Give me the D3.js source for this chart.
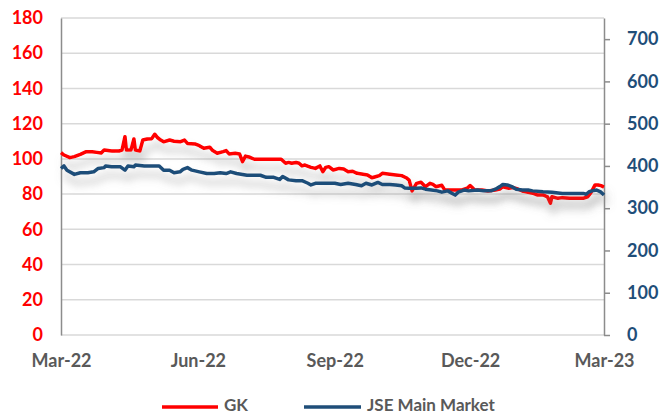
<!DOCTYPE html>
<html><head><meta charset="utf-8">
<script src="https://cdn.jsdelivr.net/npm/d3@7"></script>
<style>
body{margin:0;background:#fff;}
svg{display:block;font-family:Lato,"Open Sans",sans-serif;font-weight:bold;}
</style></head><body>
<svg id="c" width="665" height="414"></svg>
<script>
const gkDates = ["2022-03-01","2022-03-03","2022-03-07","2022-03-10","2022-03-14","2022-03-18","2022-03-22","2022-03-25","2022-03-28","2022-03-30","2022-04-04","2022-04-09","2022-04-11","2022-04-13","2022-04-14","2022-04-17","2022-04-19","2022-04-20","2022-04-23","2022-04-25","2022-04-28","2022-05-01","2022-05-03","2022-05-05","2022-05-07","2022-05-09","2022-05-13","2022-05-16","2022-05-20","2022-05-23","2022-05-25","2022-05-30","2022-06-02","2022-06-05","2022-06-09","2022-06-11","2022-06-14","2022-06-18","2022-06-20","2022-06-22","2022-06-26","2022-06-29","2022-07-01","2022-07-03","2022-07-06","2022-07-09","2022-07-18","2022-07-27","2022-07-30","2022-08-01","2022-08-03","2022-08-06","2022-08-08","2022-08-10","2022-08-12","2022-08-16","2022-08-19","2022-08-22","2022-08-24","2022-08-26","2022-08-28","2022-08-31","2022-09-04","2022-09-07","2022-09-10","2022-09-13","2022-09-16","2022-09-20","2022-09-23","2022-09-26","2022-09-29","2022-10-01","2022-10-03","2022-10-08","2022-10-12","2022-10-16","2022-10-19","2022-10-21","2022-10-23","2022-10-26","2022-10-29","2022-11-01","2022-11-04","2022-11-06","2022-11-08","2022-11-12","2022-11-14","2022-11-21","2022-11-25","2022-11-29","2022-12-01","2022-12-03","2022-12-04","2022-12-09","2022-12-13","2022-12-18","2022-12-21","2022-12-23","2022-12-27","2022-12-30","2023-01-02","2023-01-05","2023-01-09","2023-01-12","2023-01-15","2023-01-19","2023-01-22","2023-01-24","2023-01-25","2023-01-29","2023-02-01","2023-02-06","2023-02-10","2023-02-15","2023-02-18","2023-02-20","2023-02-23","2023-02-25","2023-02-27","2023-03-01"];
const gkValues = [103.5,102.2,100.7,101.3,102.6,104.1,104.1,103.7,103.3,105,104.5,104.5,105,112.6,105,105,111.3,105,104.5,110.7,111.3,111.5,114,112,110.7,109.7,110.7,110,109.7,110.7,108.8,108.5,107.5,106,106.6,104.7,103.2,104.1,104.7,102.8,103.2,102.8,98.4,101.6,100.9,99.8,99.8,99.8,97.5,98,97.5,98,97.5,96,96.5,95.2,94.6,96,92.7,95.2,95.6,93.7,94.6,94.2,92.7,93,91.8,91.3,90.9,89.3,90,90.5,91.8,91.3,90.9,90.5,89.3,88,81.8,86.1,86.7,84.2,86.1,85.5,84.2,85,82.3,82.3,82.3,83.3,84.8,83.3,82.3,82.3,81.8,82.3,82.9,84.2,83.3,83.7,82.9,81.8,81,80.5,79.5,79.5,78.5,74.8,78.5,77.6,78,77.6,77.6,77.6,78.5,80.5,85.2,85.2,84.8,84];

const jseDates = ["2022-03-01","2022-03-03","2022-03-05","2022-03-10","2022-03-14","2022-03-19","2022-03-23","2022-03-26","2022-03-30","2022-03-31","2022-04-04","2022-04-10","2022-04-13","2022-04-15","2022-04-19","2022-04-20","2022-04-26","2022-05-06","2022-05-09","2022-05-13","2022-05-16","2022-05-20","2022-05-22","2022-05-25","2022-05-28","2022-06-02","2022-06-07","2022-06-12","2022-06-16","2022-06-20","2022-06-23","2022-06-27","2022-07-04","2022-07-13","2022-07-17","2022-07-22","2022-07-26","2022-07-28","2022-08-01","2022-08-06","2022-08-10","2022-08-14","2022-08-16","2022-08-19","2022-08-28","2022-09-01","2022-09-05","2022-09-10","2022-09-15","2022-09-19","2022-09-22","2022-09-26","2022-09-30","2022-10-03","2022-10-08","2022-10-12","2022-10-16","2022-10-18","2022-10-21","2022-10-26","2022-10-29","2022-11-01","2022-11-05","2022-11-09","2022-11-12","2022-11-16","2022-11-19","2022-11-21","2022-11-23","2022-11-27","2022-11-30","2022-12-06","2022-12-10","2022-12-15","2022-12-18","2022-12-21","2022-12-23","2022-12-26","2022-12-29","2023-01-01","2023-01-05","2023-01-09","2023-01-12","2023-01-19","2023-01-25","2023-02-01","2023-02-08","2023-02-15","2023-02-17","2023-02-19","2023-02-21","2023-02-24","2023-02-27","2023-03-01"];
const jseValues = [394,400,390,380,384,384,386,394,396,400,398,398,390,400,398,402,400,400,390,390,384,386,392,396,390,386,382,382,384,382,386,382,378,378,373,373,368,375,367,365,365,359,355,359,359,359,356,359,356,353,359,355,361,356,356,355,353,348,347,347,348,345,343,341,338,341,335,331,338,343,341,343,341,341,345,351,356,355,351,345,343,343,341,339,338,335,335,335,333,339,341,343,338,331];

const leftTicks = [0,20,40,60,80,100,120,140,160,180];
const rightTicks = [0,100,200,300,400,500,600,700];
const xTickLabels = ["Mar-22","Jun-22","Sep-22","Dec-22","Mar-23"];
const xTickDates = ["2022-03-01","2022-06-01","2022-09-01","2022-12-01","2023-03-01"];
const seriesNames = ["GK","JSE Main Market"];
const seriesColors = ["#ff0000","#1f4e79"];

const svg = d3.select("#c");
const m = {l:61, r:604, t:18, b:335};
const parse = d3.utcParse("%Y-%m-%d");
const x = d3.scaleUtc().domain([parse("2022-03-01"), parse("2023-03-01")]).range([m.l, m.r]);
const yL = d3.scaleLinear().domain([0,180]).range([m.b, m.t]);
const yR = d3.scaleLinear().domain([0,750]).range([m.b, m.t]);
const FS = "18px";

const defs = svg.append("defs");
const f = defs.append("filter").attr("id","sh").attr("x","-10%").attr("y","-50%").attr("width","120%").attr("height","250%");
f.append("feDropShadow").attr("dx",3).attr("dy",9).attr("stdDeviation",4).attr("flood-color","#7f7f7f").attr("flood-opacity",0.5);

// gridlines
svg.append("g").selectAll("line").data(leftTicks).join("line")
  .attr("x1",m.l).attr("x2",m.r).attr("y1",d=>yL(d)).attr("y2",d=>yL(d))
  .attr("stroke","#d9d9d9").attr("stroke-width",1.5);

// left axis
const gL = svg.append("g").attr("transform",`translate(${m.l},0)`)
  .call(d3.axisLeft(yL).tickValues(leftTicks).tickSize(0).tickPadding(18));
gL.select(".domain").attr("stroke","#8c8c8c").attr("stroke-width",1.5);
gL.selectAll("text").attr("fill","#ff0000").style("font-size",FS).style("font-family","Lato").style("font-weight","bold");

// right axis
const gR = svg.append("g").attr("transform",`translate(${m.r},0)`)
  .call(d3.axisRight(yR).tickValues(rightTicks).tickSize(6).tickSizeOuter(0).tickPadding(17));
gR.select(".domain").attr("stroke","#8c8c8c").attr("stroke-width",1.5);
gR.selectAll(".tick line").attr("stroke","#8c8c8c").attr("stroke-width",1.5);
gR.selectAll("text").attr("fill","#1f4e79").style("font-size",FS).style("font-family","Lato").style("font-weight","bold");

// x axis
const gX = svg.append("g").attr("transform",`translate(0,${m.b})`)
  .call(d3.axisBottom(x).tickValues(xTickDates.map(parse)).tickFormat((d,i)=>xTickLabels[i]).tickSize(0).tickPadding(19));
gX.select(".domain").remove();
gX.selectAll("text").attr("fill","#595959").style("font-size",FS).style("font-family","Lato").style("font-weight","bold");

const gk = gkDates.map((d,i)=>({d:parse(d), v:gkValues[i]}));
const jse = jseDates.map((d,i)=>({d:parse(d), v:jseValues[i]}));

svg.append("path").datum(gk)
  .attr("d", d3.line().x(d=>x(d.d)).y(d=>yL(d.v)))
  .attr("fill","none").attr("stroke",seriesColors[0]).attr("stroke-width",3.5).attr("stroke-linejoin","round")
  .attr("filter","url(#sh)");
svg.append("path").datum(jse)
  .attr("d", d3.line().x(d=>x(d.d)).y(d=>yR(d.v)))
  .attr("fill","none").attr("stroke",seriesColors[1]).attr("stroke-width",3.5).attr("stroke-linejoin","round")
  .attr("filter","url(#sh)");

// legend
const leg = svg.append("g");
const legItems = [{x1:162,x2:218,tx:224},{x1:304,x2:361,tx:367}];
legItems.forEach((it,i)=>{
  leg.append("line").attr("x1",it.x1).attr("x2",it.x2).attr("y1",407).attr("y2",407)
    .attr("stroke",seriesColors[i]).attr("stroke-width",3.5);
  leg.append("text").attr("x",it.tx).attr("y",411).text(seriesNames[i])
    .attr("fill","#595959").style("font-size","17px");
});
</script>
</body></html>
